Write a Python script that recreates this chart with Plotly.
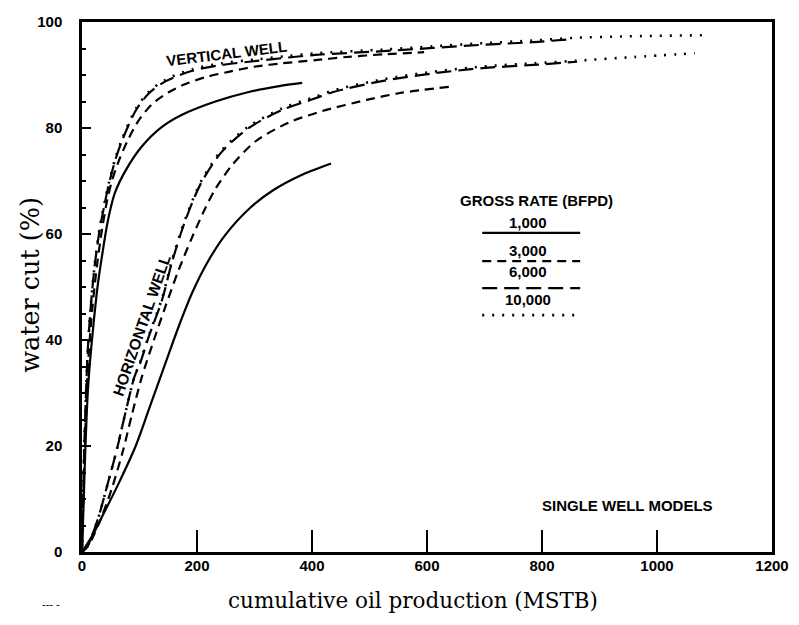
import plotly.graph_objects as go

# ---------------- data ----------------
# Vertical well
vert_1000_x = [0, 3, 6, 10, 14, 20, 27, 35, 45, 57, 76, 104, 139, 174, 232, 290, 343, 383]
vert_1000_y = [0, 10, 20, 30, 36, 43, 50, 56, 62.5, 67.7, 72, 76.5, 80.2, 82.5, 85.0, 86.8, 87.9, 88.5]

vert_3000_x = [0, 2, 5, 8, 12, 18, 26, 35, 44, 52, 64, 81, 99, 122, 150, 180, 215, 255, 302, 348, 406, 460, 525, 595]
vert_3000_y = [0, 10, 20, 30, 38, 46, 54, 61, 66.5, 70, 73.8, 78, 81.5, 84.5, 86.7, 88.3, 89.6, 90.6, 91.6, 92.2, 92.8, 93.4, 93.9, 94.3]

vert_6000_x = [0, 2, 4, 7, 10, 15, 22, 31, 40, 47, 58, 70, 93, 116, 145, 192, 243, 308, 359, 406, 524, 610, 697, 785, 854]
vert_6000_y = [0, 10, 20, 30, 38, 46, 54, 61, 66, 69.5, 74, 77.7, 83.2, 86.5, 88.8, 90.8, 91.9, 92.7, 93.3, 93.8, 94.5, 95.1, 95.7, 96.2, 96.8]

vert_10000_x = [0, 2, 4, 7, 10, 15, 22, 31, 40, 47, 58, 70, 93, 116, 145, 192, 243, 308, 359, 406, 524, 610, 697, 785, 854, 950, 1078]
vert_10000_y = [0, 10, 20, 30, 38, 46, 54.2, 61.3, 66.3, 69.8, 74.3, 78.0, 83.5, 86.8, 89.1, 91.1, 92.2, 93.0, 93.6, 94.1, 94.8, 95.4, 96.0, 96.5, 97.0, 97.3, 97.5]

# Horizontal well
horz_1000_x = [0, 20, 35, 64, 93, 116, 145, 168, 192, 220, 249, 293, 333, 379, 433]
horz_1000_y = [0, 3.5, 6.7, 13, 19.9, 26.8, 35.6, 42.5, 49, 55, 59.8, 65, 68.3, 71, 73.3]

horz_3000_x = [0, 10, 30, 52, 71, 87, 104, 125, 145, 168, 192, 215, 232, 261, 302, 359, 418, 495, 553, 640]
horz_3000_y = [0, 1, 5.5, 12, 19, 26, 33, 40, 46.3, 53.2, 59.5, 65, 68.5, 73, 77.5, 81, 83.2, 85.3, 86.6, 87.8]

horz_6000_x = [0, 9, 27, 45, 61, 76, 91, 101, 116, 139, 156, 174, 192, 209, 243, 290, 348, 406, 437, 524, 610, 697, 785, 861]
horz_6000_y = [0, 1, 6, 13, 19.5, 26.5, 33, 35.6, 40.6, 47.5, 54.5, 60.8, 66, 70, 75.5, 80, 83.4, 85.6, 86.8, 88.9, 90.3, 91.3, 91.9, 92.5]

horz_10000_x = [0, 9, 27, 45, 61, 76, 91, 101, 116, 139, 156, 174, 192, 209, 243, 290, 348, 406, 437, 524, 610, 697, 785, 861, 960, 1066]
horz_10000_y = [0, 1, 6, 13, 19.5, 26.5, 33, 35.8, 40.8, 47.8, 54.8, 61.1, 66.3, 70.3, 75.8, 80.3, 83.7, 85.9, 87.1, 89.2, 90.6, 91.6, 92.2, 92.7, 93.4, 94.1]

rate_labels = ["1,000", "3,000", "6,000", "10,000"]
x_ticks = [0, 200, 400, 600, 800, 1000, 1200]
y_ticks = [0, 20, 40, 60, 80, 100]

# ---------------- styles ----------------
DASH = {"1,000": "solid", "3,000": "9px,6px", "6,000": "15px,7px", "10,000": "2px,8px"}
WIDTH = {"1,000": 2.2, "3,000": 2.2, "6,000": 2.2, "10,000": 2.6}
SANS = "Liberation Sans, Arial, sans-serif"
SERIF = "DejaVu Serif, serif"
BOLD = dict(family=SANS, size=15, color="black", weight="bold")

series = [
    ("1,000", vert_1000_x, vert_1000_y), ("3,000", vert_3000_x, vert_3000_y),
    ("6,000", vert_6000_x, vert_6000_y), ("10,000", vert_10000_x, vert_10000_y),
    ("1,000", horz_1000_x, horz_1000_y), ("3,000", horz_3000_x, horz_3000_y),
    ("6,000", horz_6000_x, horz_6000_y), ("10,000", horz_10000_x, horz_10000_y),
]

fig = go.Figure()
for rate, xs, ys in series:
    fig.add_trace(go.Scatter(
        x=xs, y=ys, mode="lines",
        line=dict(color="black", width=WIDTH[rate], dash=DASH[rate], shape="spline", smoothing=0.8),
        showlegend=False, hoverinfo="skip"))


def note(text, x, y, angle=0, font=BOLD):
    return dict(text=text, x=x, y=y, xref="paper", yref="paper", showarrow=False,
                xanchor="center", yanchor="middle", textangle=angle, font=font)


# ---------------- custom legend ----------------
legend_text_y = [0.621, 0.568, 0.530, 0.477]
legend_line_y = [0.602, 0.549, 0.498, 0.447]
annotations = [note("GROSS RATE (BFPD)", 0.659, 0.664)]
shapes = []
for lab, ty, ly in zip(rate_labels, legend_text_y, legend_line_y):
    annotations.append(note(lab, 0.646, ty))
    shapes.append(dict(type="line", xref="paper", yref="paper", x0=0.580, x1=0.722, y0=ly, y1=ly,
                       line=dict(color="black", width=WIDTH[lab], dash=DASH[lab])))

annotations += [
    note("VERTICAL WELL", 0.209, 0.940, -7),
    note("HORIZONTAL WELL", 0.086, 0.428, -71, dict(family=SANS, size=15.5, color="black", weight="bold")),
    note("SINGLE WELL MODELS", 0.790, 0.087),
    note("cumulative oil production (MSTB)", 0.480, -0.0906, 0,
         dict(family=SERIF, size=21.5, color="black")),
    note("water cut (%)", -0.0754, 0.504, -90, dict(family=SERIF, size=25.5, color="black")),
    note("--- -", -0.045, -0.098, 0, dict(family=SANS, size=11, color="black")),
]

fig.update_layout(
    width=783, height=609,
    margin=dict(l=74, r=19, t=14, b=65, autoexpand=False),
    paper_bgcolor="white", plot_bgcolor="white",
    annotations=annotations, shapes=shapes,
    xaxis=dict(range=[0, 1200], tickvals=x_ticks, ticktext=[str(v) for v in x_ticks],
               ticks="inside", ticklen=22, tickwidth=2, tickcolor="black",
               showline=True, linewidth=2.5, linecolor="black", mirror=True,
               showgrid=False, zeroline=False, ticklabelstandoff=-2, automargin=False,
               tickfont=BOLD),
    yaxis=dict(range=[0, 100], tickvals=y_ticks, ticktext=[str(v) for v in y_ticks],
               ticks="inside", ticklen=9, tickwidth=2, tickcolor="black",
               minor=dict(dtick=5, ticks="inside", ticklen=4, tickwidth=1.5, tickcolor="black", showgrid=False),
               showline=True, linewidth=2.5, linecolor="black", mirror=True,
               showgrid=False, zeroline=False, ticklabelstandoff=14, automargin=False,
               tickfont=BOLD),
)

fig.write_html("out.html")
